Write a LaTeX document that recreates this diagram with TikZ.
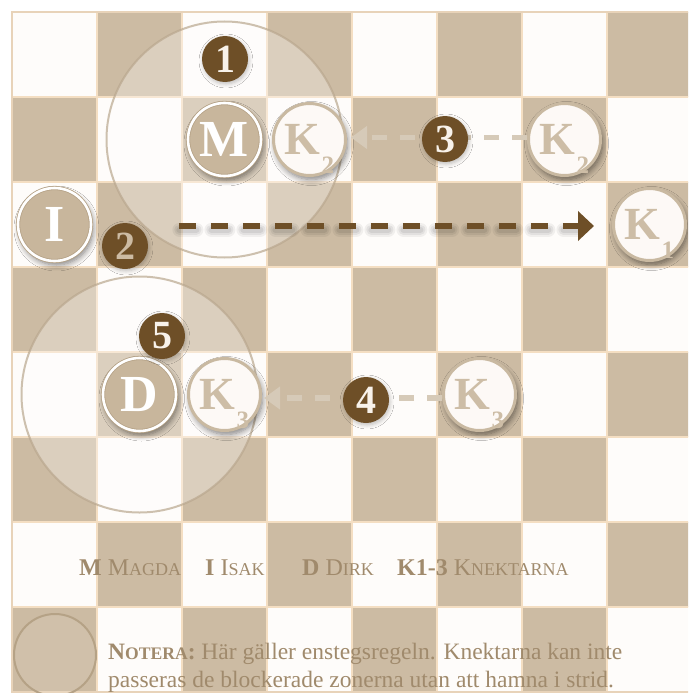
\documentclass[tikz,border=0pt]{standalone}
\usepackage{fontspec}
\setmainfont{Liberation Serif}
\usetikzlibrary{arrows.meta,shadows.blur}
\definecolor{darksq}{HTML}{CCBBA3}
\definecolor{lightsq}{HTML}{FEFCFA}
\definecolor{gridln}{HTML}{F4DEC2}
\definecolor{badgebrown}{HTML}{6E4F27}
\definecolor{pawn}{HTML}{C8B69C}
\definecolor{pawnedge}{HTML}{B5A286}
\definecolor{ktext}{HTML}{CDBDA6}
\definecolor{kfill}{HTML}{FDF9F6}
\definecolor{kring}{HTML}{C9B9A1}
\definecolor{lightarrow}{HTML}{D6CAB8}
\definecolor{legendc}{HTML}{A08A6C}
\definecolor{zonec}{HTML}{B9A78E}
\definecolor{cream}{HTML}{F8F2EA}
\newcommand\legsc[1]{{\fontsize{18}{18}\selectfont #1}}
\newcommand\notesc[1]{{\fontsize{17.6}{17.6}\selectfont #1}}
\newcommand\ksub[1]{\kern1pt\smash{\raisebox{-19pt}{\fontsize{25}{25}\selectfont #1}}}
\tikzset{
  pieceshadow/.style={blur shadow={shadow xshift=2pt, shadow yshift=-4pt, shadow blur radius=6pt, shadow blur steps=8, shadow opacity=50}},
  hero/.style={circle, minimum size=73pt, inner sep=0pt, fill=pawn, draw=pawnedge, double=white, double distance=2.6pt, line width=0.8pt, text=white, font=\fontsize{52}{52}\selectfont\bfseries, pieceshadow},
  knekt/.style={circle, minimum size=72pt, inner sep=0pt, fill=kfill, draw=kring, line width=3pt, text=ktext, font=\fontsize{46}{46}\selectfont\bfseries, pieceshadow},
  badge/.style={circle, minimum size=46pt, inner sep=0pt, fill=badgebrown, text=cream, font=\fontsize{40}{40}\selectfont\bfseries, blur shadow={shadow xshift=1pt, shadow yshift=-2pt, shadow blur radius=4pt, shadow blur steps=6, shadow opacity=25}},
  zone/.style={draw=zonec, line width=2pt, draw opacity=0.7, fill=white, fill opacity=0.3},
  legend/.style={anchor=base west, inner sep=0pt, text=legendc, font=\fontsize{24}{24}\selectfont},
  note/.style={anchor=base west, inner sep=0pt, text=legendc, font=\fontsize{23.5}{28}\selectfont},
  movedash/.style={dash pattern=on 17pt off 15pt},
  movearrow/.style={badgebrown, line width=6pt, movedash, -{Triangle[length=16pt,width=29pt]}},
  moveshadow/.style={black, movedash, line cap=round},
  backarrow/.style={lightarrow, line width=5.5pt, dash pattern=on 15pt off 13pt, -{Triangle[length=16pt,width=22pt]}},
}
\begin{document}
\begin{tikzpicture}[x=1pt,y=-1pt]
\useasboundingbox (0,0) rectangle (688,693);
\clip (0,0) rectangle (688,693);
\fill[white] (0,0) rectangle (688,693);
% board
\fill[lightsq] (12,12) rectangle (692,692);
\foreach \r in {0,...,7}{
  \foreach \c in {0,...,7}{
    \pgfmathtruncatemacro\s{mod(\r+\c,2)}
    \ifnum\s=1 \fill[darksq] ({12+85*\c},{12+85*\r}) rectangle +(85,85);\fi
  }
}
\foreach \k in {1,...,7}{
  \draw[gridln, line width=1.5pt] ({12+85*\k},12) -- ++(0,680);
  \draw[gridln, line width=1.5pt] (12,{12+85*\k}) -- ++(680,0);
}
\draw[gridln!70!darksq, line width=2pt] (12,12) rectangle (692,692);
% positions
\coordinate (pM) at (224.5,139.5);
\coordinate (pD) at (139.5,394.5);
% zones
\draw[zone] (pM) circle (118pt);
\draw[zone] (pD) circle (118pt);
\node[circle, minimum size=82pt, inner sep=0pt, draw=pawnedge, line width=2pt, fill=white, fill opacity=0.08] (legendzone) at (55,655) {};
% pieces
\node[hero] (M) at (pM) {M};
\node[hero] (I) at (54.5,224.5) {I};
\node[hero] (D) at (pD) {D};
\node[knekt] (K2a) at (309.5,139.5) {K\ksub{2}};
\node[knekt] (K2b) at (564.5,139.5) {K\ksub{2}};
\node[knekt] (K1) at (649.5,224.5) {K\ksub{1}};
\node[knekt] (K3a) at (224.5,394.5) {K\ksub{3}};
\node[knekt] (K3b) at (479.5,394.5) {K\ksub{3}};
% arrows
\draw[moveshadow, opacity=0.05, line width=14pt, shorten <=88pt, shorten >=34pt] ([yshift=-5pt]I.east) -- ([yshift=-5pt]K1.west);
\draw[moveshadow, opacity=0.06, line width=10pt, shorten <=88pt, shorten >=34pt] ([yshift=-5pt]I.east) -- ([yshift=-5pt]K1.west);
\draw[moveshadow, opacity=0.07, line width=6pt, shorten <=88pt, shorten >=34pt] ([yshift=-5pt]I.east) -- ([yshift=-5pt]K1.west);
\draw[movearrow, shorten <=88pt, shorten >=18pt] ([yshift=-1.5pt]I.east) -- ([yshift=-1.5pt]K1.west);
\draw[backarrow, shorten >=4pt] ([yshift=2pt]K2b.west) -- ([yshift=2pt]K2a.east);
\draw[backarrow, shorten >=2pt] ([yshift=-3.5pt]K3b.west) -- ([yshift=-3.5pt]K3a.east);
% badges
\node[badge] (b1) at (225,59) {1};
\node[badge, text=darksq] (b2) at (125,246) {2};
\node[badge] (b3) at (445,139) {3};
\node[badge] (b4) at (366,400) {4};
\node[badge] (b5) at (162,336) {5};
% legend
\node[legend] (lgM) at (79,575) {\textbf{M} M\legsc{AGDA}};
\node[legend] (lgI) at (205,575) {\textbf{I} I\legsc{SAK}};
\node[legend] (lgD) at (302,575) {\textbf{D} D\legsc{IRK}};
\node[legend] (lgK) at (397,575) {\textbf{K1-3} K\legsc{NEKTARNA}};
% note
\node[note] (note1) at (108,659) {\textbf{N\notesc{OTERA}:} Här gäller enstegsregeln. Knektarna kan inte};
\node[note] (note2) at (108,687) {passeras de blockerade zonerna utan att hamna i strid.};
\end{tikzpicture}
\end{document}
